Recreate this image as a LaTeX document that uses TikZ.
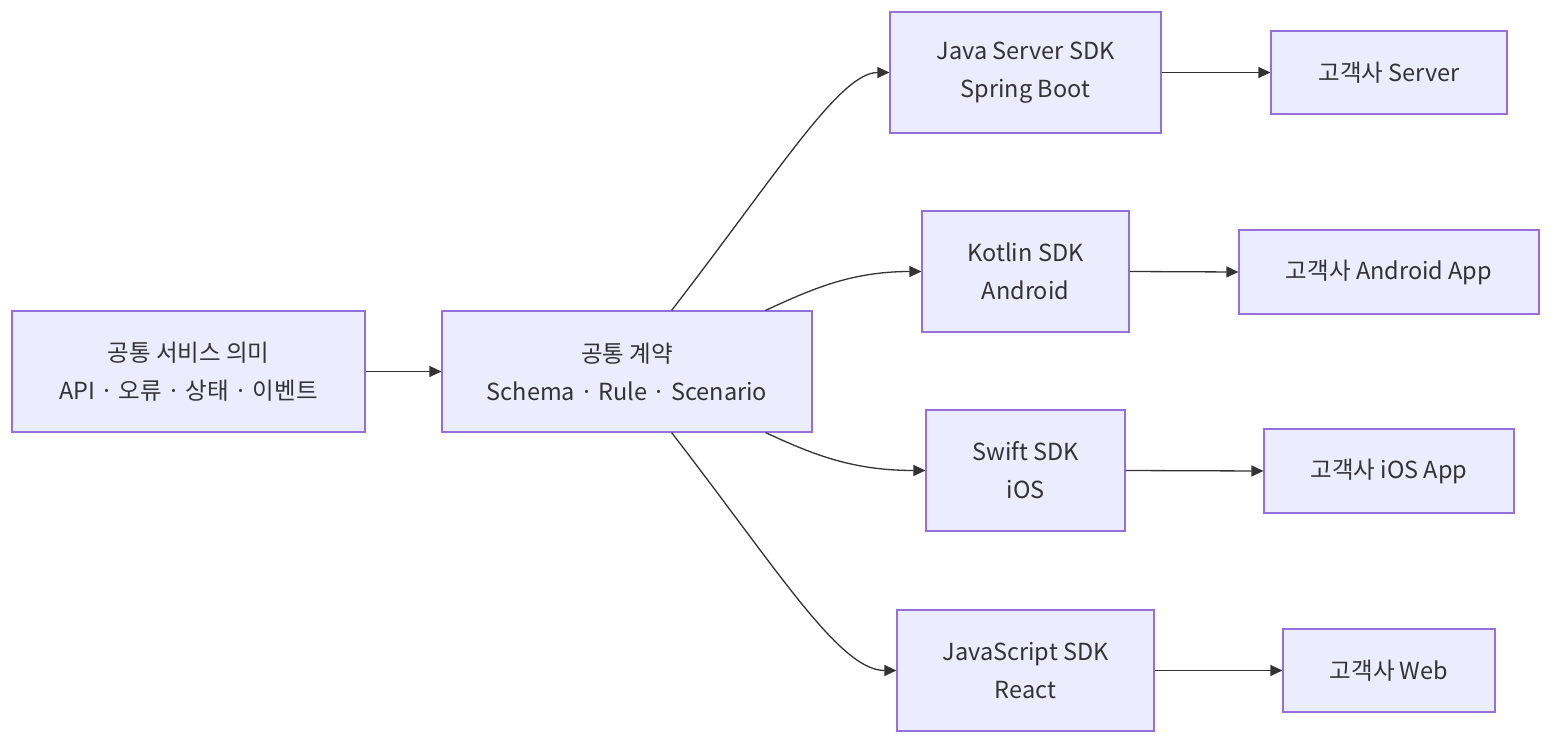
\documentclass[tikz,border=0pt]{standalone}
\usepackage{fontspec}
\setmainfont{Noto Sans CJK KR}
\usetikzlibrary{arrows.meta}
\definecolor{nodefill}{HTML}{ECECFF}
\definecolor{nodeline}{HTML}{9370DB}
\definecolor{ink}{HTML}{333333}
\tikzset{
  box/.style={draw=nodeline, fill=nodefill, line width=1.2pt, text=ink,
    inner sep=0pt, align=center, font=\fontsize{23.5}{38}\selectfont},
  conn/.style={draw=ink, line width=1.3pt, -{Triangle[length=12pt,width=11pt]}}
}
\begin{document}
\begin{tikzpicture}[x=1pt,y=-1pt]
\useasboundingbox (0,0) rectangle (1568,752);
\node[box, minimum width=353pt, minimum height=121pt] (a) at (188.5,371.5) {공통 서비스 의미\\API · 오류 · 상태 · 이벤트};
\node[box, minimum width=370pt, minimum height=121pt] (b) at (627,371.5) {공통 계약\\Schema · Rule · Scenario};
\node[box, minimum width=271pt, minimum height=121pt] (java) at (1025.5,72.5) {Java Server SDK\\Spring Boot};
\node[box, minimum width=207pt, minimum height=121pt] (kot) at (1025.5,271.5) {Kotlin SDK\\Android};
\node[box, minimum width=199pt, minimum height=121pt] (swift) at (1025.5,470.5) {Swift SDK\\iOS};
\node[box, minimum width=257pt, minimum height=121pt] (js) at (1025.5,670.5) {JavaScript SDK\\React};
\node[box, minimum width=236pt, minimum height=83pt] (srv) at (1389,72.5) {고객사 Server};
\node[box, minimum width=300pt, minimum height=84pt] (andr) at (1389,272) {고객사 Android App};
\node[box, minimum width=250pt, minimum height=84pt] (ios) at (1389,471) {고객사 iOS App};
\node[box, minimum width=212pt, minimum height=83pt] (web) at (1389,670.5) {고객사 Web};

\draw[conn] (a.east) -- (b.west);
\draw[conn] ([xshift=-141pt]b.north east) .. controls (780,170) and (840,72.5) .. (java.west);
\draw[conn] ([xshift=-47pt]b.north east) .. controls (810,290) and (850,271.5) .. (kot.west);
\draw[conn] ([xshift=-47pt]b.south east) .. controls (810,453) and (850,470.5) .. (swift.west);
\draw[conn] ([xshift=-141pt]b.south east) .. controls (780,573) and (840,670.5) .. (js.west);
\draw[conn] (java.east) -- (srv.west);
\draw[conn] (kot.east) -- (andr.west);
\draw[conn] (swift.east) -- (ios.west);
\draw[conn] (js.east) -- (web.west);
\end{tikzpicture}
\end{document}
